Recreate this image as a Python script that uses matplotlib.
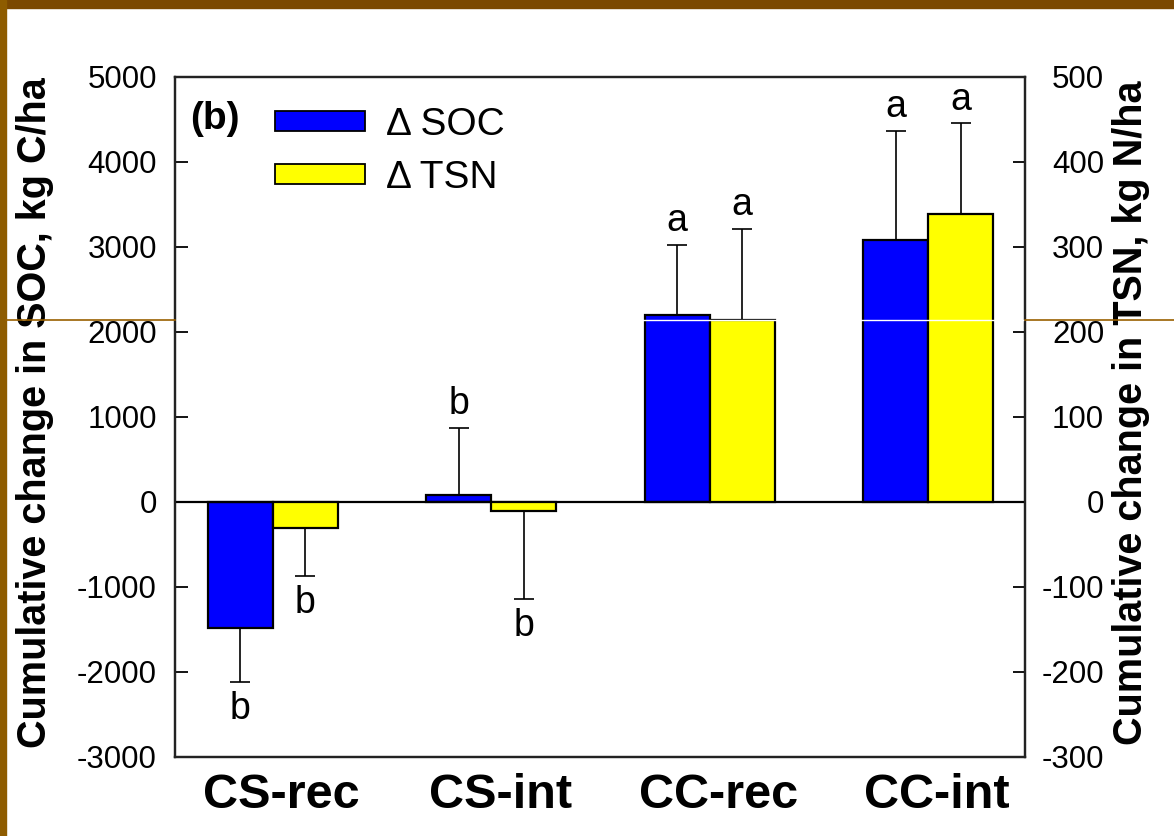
import numpy as np
import matplotlib
matplotlib.use("Agg")
import matplotlib.pyplot as plt
from matplotlib.lines import Line2D
from matplotlib.patches import Patch, Rectangle

plt.rcParams['font.family'] = ['Liberation Sans', 'DejaVu Sans']
plt.rcParams['axes.unicode_minus'] = False

# data
treatments = ["CS-rec", "CS-int", "CC-rec", "CC-int"]
soc = [-1490, 80, 2200, 3080]          # kg C/ha
soc_err = [630, 790, 825, 1285]
tsn = [-31, -11, 214, 339]             # kg N/ha
tsn_err = [56, 103, 107, 106]
soc_letters = ["b", "b", "a", "a"]
tsn_letters = ["b", "b", "a", "a"]

W, H = 1174, 836
fig = plt.figure(figsize=(W / 100, H / 100), dpi=100)
ax = fig.add_axes([175 / W, 1 - 756.7 / H, 850 / W, 680 / H])
ax2 = ax.twinx()

x = np.arange(len(treatments))
bw = 0.298

def one_sided(vals, errs):
    lo = [e if v < 0 else 0 for v, e in zip(vals, errs)]
    hi = [e if v >= 0 else 0 for v, e in zip(vals, errs)]
    return [lo, hi]

ax.bar(x - bw / 2, soc, bw, color="#0000FF", edgecolor="black", linewidth=1.6, zorder=2)
ax.errorbar(x - bw / 2, soc, yerr=one_sided(soc, soc_err), fmt="none", ecolor="black",
            elinewidth=1.2, capsize=7.5, capthick=1.2, zorder=3)
ax2.bar(x + bw / 2, tsn, bw, color="#FFFF00", edgecolor="black", linewidth=1.6, zorder=2)
ax2.errorbar(x + bw / 2, tsn, yerr=one_sided(tsn, tsn_err), fmt="none", ecolor="black",
             elinewidth=1.2, capsize=7.5, capthick=1.2, zorder=3)

# significance letters
for xi, v, e, t in zip(x - bw / 2, soc, soc_err, soc_letters):
    if v >= 0:
        ax.text(xi, v + e + 70, t, ha="center", va="bottom", fontsize=27)
    else:
        ax.text(xi, v - e - 110, t, ha="center", va="top", fontsize=27)
for xi, v, e, t in zip(x + bw / 2, tsn, tsn_err, tsn_letters):
    if v >= 0:
        ax2.text(xi, v + e + 7, t, ha="center", va="bottom", fontsize=27)
    else:
        ax2.text(xi, v - e - 11, t, ha="center", va="top", fontsize=27)

ax.axhline(0, color="black", linewidth=1.6, zorder=4)

ax.set_xlim(-0.447, 3.443)
ax.set_ylim(-3000, 5000)
ax2.set_ylim(-300, 500)
ax.set_yticks(np.arange(-3000, 5001, 1000))
ax2.set_yticks(np.arange(-300, 501, 100))
# labels sit a little right of the bar-pair centres in the original
ax.set_xticks(x + 0.041)
ax.set_xticklabels(treatments, fontsize=35, fontweight="bold")
ax.tick_params(axis="x", length=0, pad=12)
ax.tick_params(axis="y", direction="in", length=9, width=1.3, labelsize=22.5, pad=13)
ax2.tick_params(axis="y", direction="in", length=9, width=1.3, labelsize=22.5, pad=57)
for lab in ax2.get_yticklabels():
    lab.set_horizontalalignment("right")
for a in (ax, ax2):
    for s in a.spines.values():
        s.set_linewidth(1.6)
        s.set_color("#222222")

fig.text(35 / W, 1 - 413 / H, "Cumulative change in SOC, kg C/ha", rotation=90,
         ha="center", va="center", fontsize=28.5, fontweight="bold")
fig.text(1131 / W, 1 - 413 / H, "Cumulative change in TSN, kg N/ha", rotation=90,
         ha="center", va="center", fontsize=28.5, fontweight="bold")

# legend
handles = [Patch(facecolor="#0000FF", edgecolor="black", linewidth=1.3),
           Patch(facecolor="#FFFF00", edgecolor="black", linewidth=1.3)]
ax2.legend(handles, ["\u0394 SOC", "\u0394 TSN"], loc="upper left",
           bbox_to_anchor=(0.086, 0.996), frameon=False, fontsize=28,
           handlelength=2.3, handleheight=0.42, handletextpad=0.55, labelspacing=0.45,
           borderpad=0.2)
ax.text(0.018, 0.938, "(b)", transform=ax.transAxes, fontsize=28, fontweight="bold",
        ha="left", va="center")

# slide frame
fig.add_artist(Rectangle((0, 1 - 8 / H), 1, 8 / H, transform=fig.transFigure,
                         color="#7B4800", zorder=5))
fig.add_artist(Rectangle((0, 0), 6 / W, 1, transform=fig.transFigure,
                         color="#8E5C00", zorder=5))
yl = 1 - 320 / H
fig.add_artist(Line2D([6 / W, 175 / W], [yl, yl], color="#9A6000", linewidth=1.2, zorder=5))
fig.add_artist(Line2D([1025 / W, 1], [yl, yl], color="#9A6000", linewidth=1.2, zorder=5))
fig.add_artist(Line2D([177 / W, 1023 / W], [yl, yl], color="white", linewidth=1.0, zorder=5))

fig.savefig("out.png", dpi=100)
